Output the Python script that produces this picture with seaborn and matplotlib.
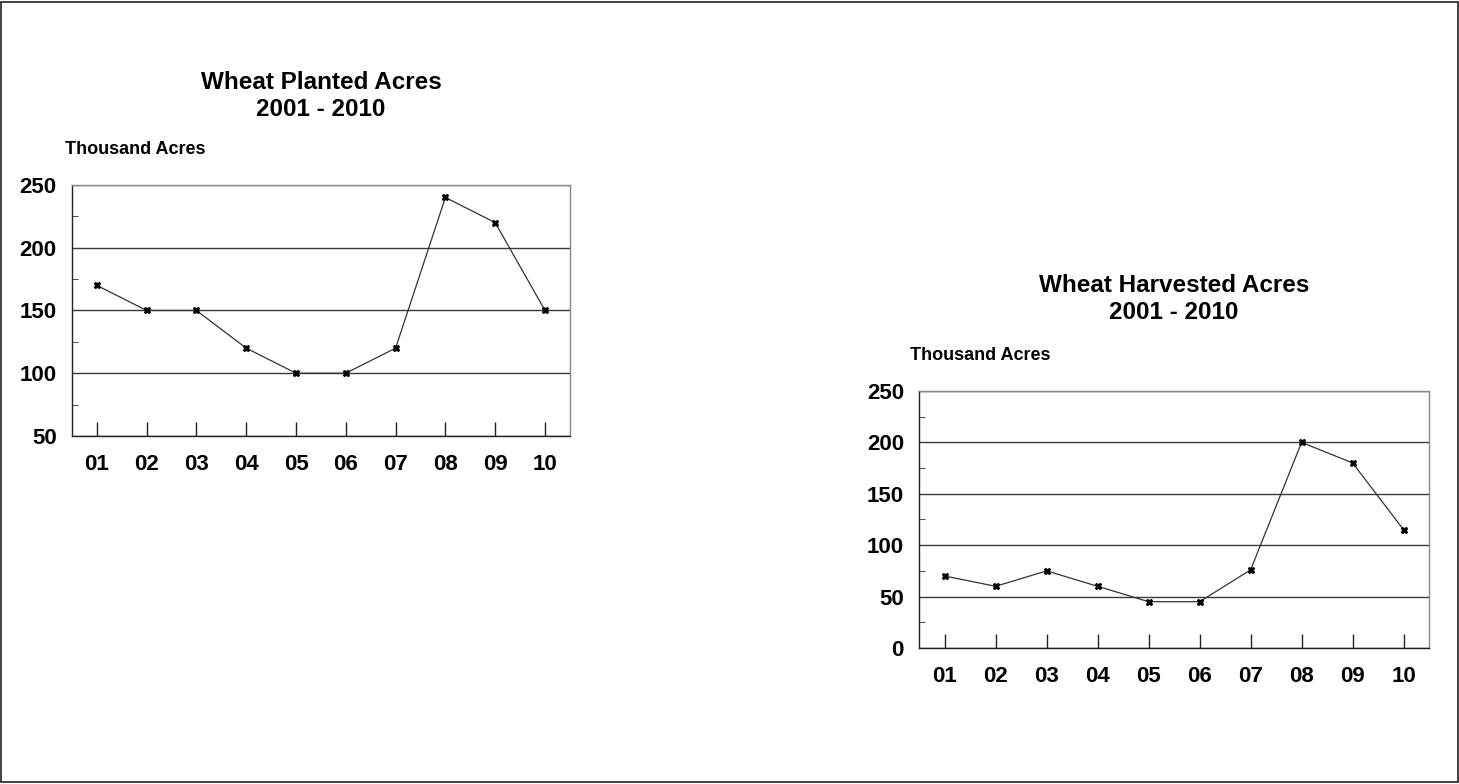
import matplotlib
matplotlib.use('AGG')

import matplotlib.pyplot as plt
import seaborn as sns
from matplotlib.patches import Rectangle
from matplotlib.ticker import MultipleLocator

years = ['01', '02', '03', '04', '05', '06', '07', '08', '09', '10']
planted = [170, 150, 150, 120, 100, 100, 120, 240, 220, 150]
harvested = [70, 60, 75, 60, 45, 45, 76, 200, 180, 115]

sns.set_style('white')
plt.rcParams['font.family'] = ['Liberation Sans', 'DejaVu Sans']
plt.rcParams['font.weight'] = 'bold'
plt.rcParams['text.color'] = 'black'

fig = plt.figure(figsize=(14.59, 7.84), dpi=100)
fig.patches.append(Rectangle((0.001, 0.002), 0.998, 0.996, transform=fig.transFigure,
                             fill=False, edgecolor='#222222', linewidth=1.2))


def draw(ax, vals, ylo, title, title_y, unit_x, unit_y):
    sns.lineplot(x=years, y=vals, ax=ax, color='#333333', linewidth=0.9,
                 marker='X', markersize=5, markerfacecolor='black',
                 markeredgecolor='black', sort=False)
    ax.set_xlim(-0.5, 9.5)
    ax.set_ylim(ylo, 250)
    ax.yaxis.set_major_locator(MultipleLocator(50))
    ax.yaxis.set_minor_locator(MultipleLocator(25))
    ax.grid(axis='y', which='major', color='#3a3a3a', linewidth=1.0)
    ax.grid(axis='x', visible=False)
    ax.set_xlabel('')
    ax.set_ylabel('')
    for s in ['left', 'bottom']:
        ax.spines[s].set_color('#222222')
        ax.spines[s].set_linewidth(1.0)
    for s in ['top', 'right']:
        ax.spines[s].set_color('#888888')
        ax.spines[s].set_linewidth(1.0)
    ax.tick_params(axis='x', bottom=True, direction='in', length=10, width=1,
                   color='#222222', labelsize=16, pad=13, labelcolor='black')
    ax.tick_params(axis='y', which='major', left=True, direction='in', length=0,
                   labelsize=16, pad=11, labelcolor='black')
    ax.tick_params(axis='y', which='minor', left=True, direction='in', length=4,
                   width=0.8, color='#555555')
    for lab in ax.get_xticklabels() + ax.get_yticklabels():
        lab.set_fontweight('bold')
    pos = ax.get_position()
    fig.text((pos.x0 + pos.x1) / 2, title_y, title, ha='center', va='center',
             fontsize=17.5, fontweight='bold', linespacing=1.22)
    fig.text(unit_x, unit_y, 'Thousand Acres', ha='left', va='center',
             fontsize=13, fontweight='bold')


ax1 = fig.add_axes([0.0493, 0.4439, 0.3413, 0.3202])
draw(ax1, planted, 50, 'Wheat Planted Acres\n2001 - 2010', 1 - 96 / 784,
     65 / 1459, 1 - 150 / 784)

ax2 = fig.add_axes([0.630, 0.1735, 0.3495, 0.3278])
draw(ax2, harvested, 0, 'Wheat Harvested Acres\n2001 - 2010', 1 - 299 / 784,
     910 / 1459, 1 - 356 / 784)

fig.savefig('out.png', dpi=100)
